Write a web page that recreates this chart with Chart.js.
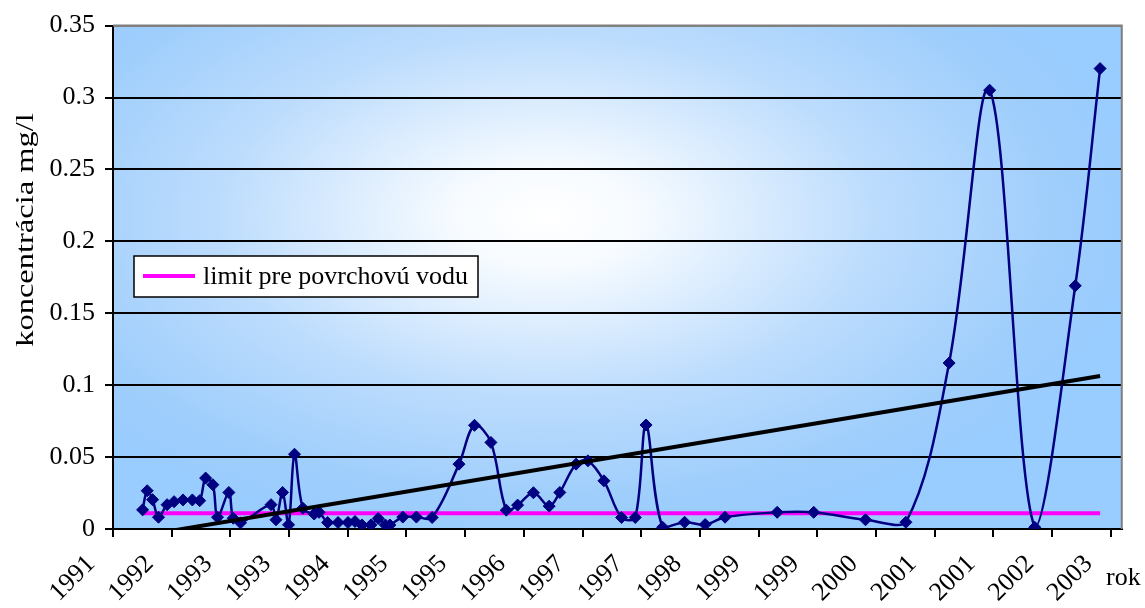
<!DOCTYPE html>
<html lang="sk">
<head>
<meta charset="UTF-8">
<title>koncentrácia</title>
<script src="https://cdn.jsdelivr.net/npm/chart.js"></script>
<style>
  html, body { margin: 0; padding: 0; background: #fff; }
  canvas { display: block; }
</style>
</head>
<body>
<canvas id="chart" width="1145" height="608"></canvas>
<script>
// sampling dates (decimal years) and measured concentration, mg/l
const sampleYears = [
  1991.978, 1992.032, 1992.095, 1992.165, 1992.266, 1992.348, 1992.453, 1992.563,
  1992.649, 1992.719, 1992.804, 1992.859, 1992.992, 1993.043, 1993.129, 1993.488,
  1993.546, 1993.624, 1993.694, 1993.764, 1993.863, 1993.995, 1994.053, 1994.153,
  1994.276, 1994.393, 1994.475, 1994.557, 1994.662, 1994.748, 1994.832, 1994.885,
  1995.037, 1995.197, 1995.382, 1995.698, 1995.880, 1996.073, 1996.254, 1996.387,
  1996.573, 1996.758, 1996.883, 1997.074, 1997.214, 1997.402, 1997.609, 1997.770,
  1997.897, 1998.092, 1998.350, 1998.592, 1998.826, 1999.439, 1999.868, 2000.477,
  2000.952, 2001.460, 2001.936, 2002.467, 2002.943, 2003.235
];
const concentration = [
  0.0133, 0.0266, 0.0204, 0.0082, 0.0169, 0.0190, 0.0202, 0.0202,
  0.0197, 0.0354, 0.0308, 0.0082, 0.0254, 0.0075, 0.0043, 0.0169,
  0.0064, 0.0254, 0.0029, 0.0520, 0.0144, 0.0104, 0.0116, 0.0045,
  0.0045, 0.0045, 0.0052, 0.0028, 0.0028, 0.0073, 0.0028, 0.0028,
  0.0083, 0.0083, 0.0080, 0.0451, 0.0721, 0.0602, 0.0131, 0.0166,
  0.0252, 0.0159, 0.0254, 0.0451, 0.0474, 0.0335, 0.0080, 0.0080,
  0.0723, 0.0012, 0.0047, 0.0031, 0.0082, 0.0116, 0.0116, 0.0064,
  0.0047, 0.1154, 0.3051, 0.0012, 0.1691, 0.3201
];
const limitValue = 0.011;            // limit pre povrchovú vodu
const trendValues = [-0.0046, 0.1064]; // linear trend at first / last sample

const xTickLabels = ['1991', '1992', '1993', '1993', '1994', '1995', '1995', '1996', '1997',
  '1997', '1998', '1999', '1999', '2000', '2001', '2001', '2002', '2003'];
const yTickLabels = ['0', '0.05', '0.1', '0.15', '0.2', '0.25', '0.3', '0.35'];

const xStart = 1991.63;
const xStep = 0.69;
const xEnd = 2003.49;

const serif = 'Liberation Serif, Times New Roman, serif';
const firstX = sampleYears[0];
const lastX = sampleYears[sampleYears.length - 1];

// background gradient, legend box, free texts, plot border
const decor = {
  id: 'decor',
  beforeDraw(chart) {
    const { ctx, chartArea: a } = chart;
    ctx.save();
    ctx.fillStyle = '#ffffff';
    ctx.fillRect(0, 0, chart.width, chart.height);
    const cx = a.left + (a.right - a.left) * 0.43;
    const cy = a.top + (a.bottom - a.top) * 0.38;
    const sy = 0.55;
    ctx.translate(cx, cy);
    ctx.scale(1, sy);
    const g = ctx.createRadialGradient(0, 0, 0, 0, 0, 600);
    g.addColorStop(0, '#ffffff');
    g.addColorStop(0.15, '#f7fbff');
    g.addColorStop(0.55, '#bcdcfd');
    g.addColorStop(0.85, '#9fcefc');
    g.addColorStop(1, '#99ccff');
    ctx.fillStyle = g;
    ctx.fillRect(a.left - cx, (a.top - cy) / sy, a.right - a.left, (a.bottom - a.top) / sy);
    ctx.restore();
  },
  afterDraw(chart) {
    const { ctx, chartArea: a } = chart;
    ctx.save();
    // plot border (top / right)
    ctx.strokeStyle = '#808080';
    ctx.lineWidth = 2;
    ctx.beginPath();
    ctx.moveTo(a.left, a.top);
    ctx.lineTo(a.right, a.top);
    ctx.lineTo(a.right, a.bottom);
    ctx.stroke();

    // legend
    ctx.fillStyle = '#ffffff';
    ctx.fillRect(134, 256, 344, 41);
    ctx.strokeStyle = '#000000';
    ctx.lineWidth = 1.5;
    ctx.strokeRect(134, 256, 344, 41);
    ctx.strokeStyle = '#ff00ff';
    ctx.lineWidth = 4;
    ctx.beginPath();
    ctx.moveTo(143, 276);
    ctx.lineTo(195, 276);
    ctx.stroke();
    ctx.fillStyle = '#000000';
    ctx.font = '26px ' + serif;
    ctx.textBaseline = 'middle';
    ctx.textAlign = 'left';
    ctx.fillText('limit pre povrchovú vodu', 203, 277);

    // x axis title
    ctx.fillText('rok', 1106, 578);

    // y axis title
    ctx.translate(26, 230);
    ctx.rotate(-Math.PI / 2);
    ctx.scale(1.25, 1);
    ctx.textAlign = 'center';
    ctx.fillText('koncentrácia mg/l', 0, 0);
    ctx.restore();
  }
};

new Chart(document.getElementById('chart'), {
  type: 'line',
  data: {
    datasets: [
      {
        label: 'trend',
        data: [{ x: firstX, y: trendValues[0] }, { x: lastX, y: trendValues[1] }],
        borderColor: '#000000',
        borderWidth: 4,
        pointRadius: 0,
        tension: 0,
        clip: 0,
        order: 0
      },
      {
        label: 'koncentrácia',
        data: sampleYears.map((x, i) => ({ x: x, y: concentration[i] })),
        borderColor: '#000080',
        backgroundColor: '#000080',
        borderWidth: 2.5,
        pointStyle: 'rectRot',
        pointRadius: 6,
        pointBorderWidth: 1,
        tension: 0.35,
        order: 1
      },
      {
        label: 'limit pre povrchovú vodu',
        data: [{ x: firstX, y: limitValue }, { x: lastX, y: limitValue }],
        borderColor: '#ff00ff',
        borderWidth: 4,
        pointRadius: 0,
        tension: 0,
        order: 2
      }
    ]
  },
  options: {
    responsive: false,
    animation: false,
    devicePixelRatio: 1,
    layout: { padding: { left: 0, top: 24, right: 20, bottom: 0 } },
    plugins: {
      legend: { display: false },
      tooltip: { enabled: false }
    },
    scales: {
      x: {
        type: 'linear',
        min: xStart,
        max: xEnd,
        afterBuildTicks: s => {
          s.ticks = xTickLabels.map((l, i) => ({ value: xStart + i * xStep }));
        },
        afterFit: s => { s.height = 79; },
        ticks: {
          autoSkip: false,
          minRotation: 45,
          maxRotation: 45,
          labelOffset: -22,
          padding: 12,
          color: '#000000',
          font: { family: serif, size: 26 },
          callback: (v, i) => xTickLabels[i]
        },
        grid: {
          drawOnChartArea: false,
          drawTicks: true,
          tickLength: 8,
          tickColor: '#000000',
          lineWidth: 2
        },
        border: { color: '#000000', width: 2 }
      },
      y: {
        min: 0,
        max: 0.35,
        afterBuildTicks: s => {
          s.ticks = yTickLabels.map(l => ({ value: parseFloat(l) }));
        },
        afterFit: s => { s.width = 113; },
        ticks: {
          padding: 10,
          color: '#000000',
          font: { family: serif, size: 26 },
          callback: (v, i) => yTickLabels[i]
        },
        grid: {
          color: c => (c.tick && c.tick.value >= 0.35 ? '#808080' : '#000000'),
          tickColor: '#000000',
          tickLength: 8,
          lineWidth: 2
        },
        border: { color: '#000000', width: 2 }
      }
    }
  },
  plugins: [decor]
});
</script>
</body>
</html>
